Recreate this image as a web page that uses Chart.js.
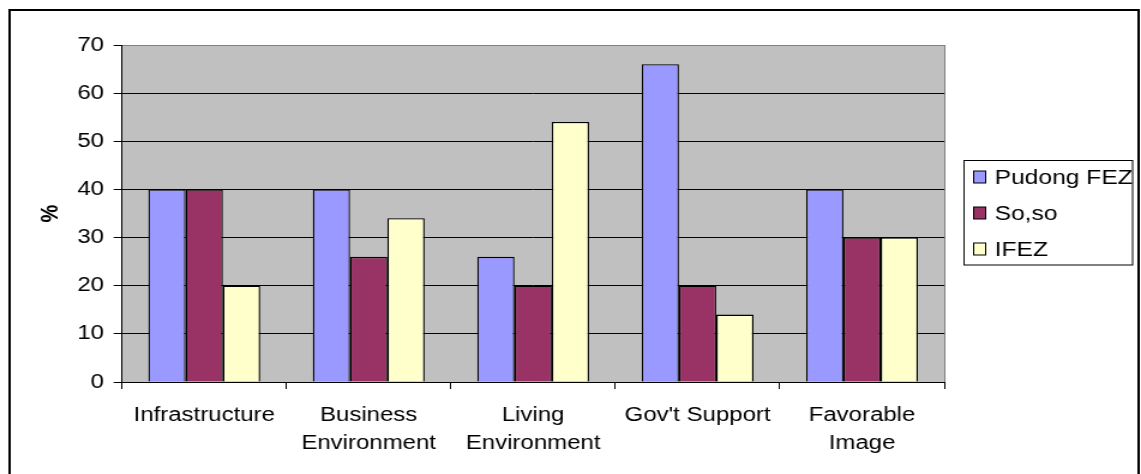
<!DOCTYPE html>
<html>
<head>
<meta charset="utf-8">
<script src="https://cdn.jsdelivr.net/npm/chart.js@4"></script>
<style>
  html, body { margin: 0; padding: 0; background: #fff; overflow: hidden; }
  /* the reference is stretched sideways, so draw narrower and widen the whole thing */
  #wrap { width: 951px; height: 474px; transform: scaleX(1.19979); transform-origin: 0 0; }
</style>
</head>
<body>
<div id="wrap"><canvas id="chart" width="951" height="474"></canvas></div>
<script>
// Datos del gráfico
const categories = ['Infrastructure', ['Business', 'Environment'], ['Living', 'Environment'], "Gov't Support", ['Favorable', 'Image']];
const seriesNames = ['Pudong FEZ', 'So,so', 'IFEZ'];
const pudongValues = [40, 40, 26, 66, 40];
const sosoValues = [40, 26, 20, 20, 30];
const ifezValues = [20, 34, 54, 14, 30];
const yTicks = [0, 10, 20, 30, 40, 50, 60, 70];

const seriesColors = ['#9999FF', '#993366', '#FFFFCC'];
const FONT = '"Liberation Sans", Arial, sans-serif';

// Fondo gris del área, borde exterior y borde derecho
const frame = {
  id: 'frame',
  beforeDraw(chart) {
    const { ctx, chartArea: a } = chart;
    ctx.save();
    ctx.fillStyle = '#fff';
    ctx.fillRect(0, 0, chart.width, chart.height);
    ctx.fillStyle = '#C0C0C0';
    ctx.fillRect(a.left, a.top, a.right - a.left, a.bottom - a.top);
    ctx.strokeStyle = '#808080';
    ctx.lineWidth = 1;
    ctx.beginPath();
    ctx.moveTo(a.right + 0.5, a.top);
    ctx.lineTo(a.right + 0.5, a.bottom);
    ctx.stroke();
    // borde exterior
    ctx.strokeStyle = '#000';
    ctx.lineWidth = 2;
    ctx.strokeRect(8, 10, 941, 480);
    ctx.restore();
  },
};

// Leyenda con recuadro, a la derecha
const boxLegend = {
  id: 'boxLegend',
  afterDraw(chart) {
    const { ctx } = chart;
    ctx.save();
    ctx.strokeStyle = '#000';
    ctx.lineWidth = 1;
    ctx.strokeRect(803.5, 160.5, 140.5, 104.5);
    ctx.font = '20.5px ' + FONT;
    ctx.textBaseline = 'middle';
    ctx.textAlign = 'left';
    chart.data.datasets.forEach((ds, i) => {
      const y = 177 + i * 36;
      ctx.fillStyle = ds.backgroundColor;
      ctx.fillRect(811.5, y - 6, 10, 12);
      ctx.strokeRect(811.5, y - 6, 10, 12);
      ctx.fillStyle = '#000';
      ctx.fillText(ds.label, 829, y + 1);
    });
    ctx.restore();
  },
};

const valueSets = [pudongValues, sosoValues, ifezValues];

new Chart(document.getElementById('chart'), {
  type: 'bar',
  data: {
    labels: categories,
    datasets: seriesNames.map((name, i) => ({
      label: name,
      data: valueSets[i],
      backgroundColor: seriesColors[i],
      borderColor: '#000',
      borderWidth: 1.3,
      categoryPercentage: 0.68,
      barPercentage: 1.0,
    })),
  },
  options: {
    responsive: false,
    animation: false,
    devicePixelRatio: 1,
    layout: { padding: { top: 45, right: 164, left: 0, bottom: 0 } },
    plugins: {
      legend: { display: false },
      tooltip: { enabled: false },
    },
    scales: {
      x: {
        afterFit(scale) { scale.height = 92; },
        grid: {
          offset: true,
          drawOnChartArea: false,
          color: '#000',
          tickLength: 7,
        },
        border: { color: '#000', width: 1 },
        ticks: {
          color: '#000',
          padding: 12,
          maxRotation: 0,
          autoSkip: false,
          font: { family: FONT, size: 20, lineHeight: 1.42 },
        },
      },
      y: {
        min: 0,
        max: 70,
        afterFit(scale) { scale.width = 101.7; },
        afterBuildTicks(scale) { scale.ticks = yTicks.map(v => ({ value: v })); },
        grid: {
          color: ctx => (ctx.tick && ctx.tick.value === 70 ? '#808080' : '#000'),
          tickColor: '#000',
          tickLength: 7,
          lineWidth: 1,
        },
        border: { color: '#000', width: 1 },
        ticks: {
          color: '#000',
          padding: 8,
          font: { family: FONT, size: 20 },
        },
        title: {
          display: true,
          text: '%',
          color: '#000',
          padding: { top: 30, bottom: 0 },
          font: { family: FONT, size: 20, weight: 'bold', lineHeight: 1.2 },
        },
      },
    },
  },
  plugins: [frame, boxLegend],
});
</script>
</body>
</html>
